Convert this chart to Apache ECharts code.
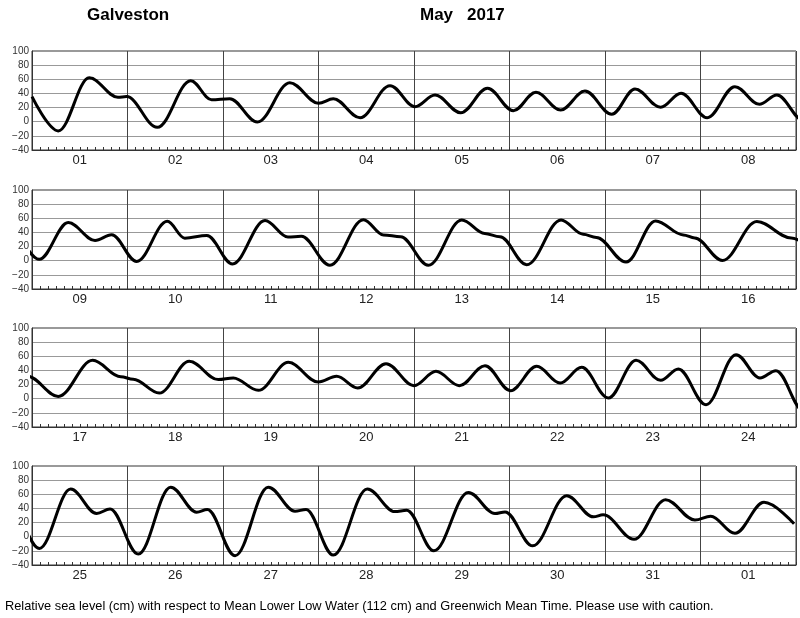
<!DOCTYPE html>
<html>
<head>
<meta charset="utf-8">
<script src="https://cdn.jsdelivr.net/npm/echarts@6/dist/echarts.min.js"></script>
<style>
html,body{margin:0;padding:0;background:#fff;}
#chart{width:800px;height:618px;}
</style>
</head>
<body>
<div id="chart"></div>
<script>
// Turning points of the water level (time in days from 1 May 00:00 GMT, level in cm)
const extremaDays = [
  0, 0.275, 0.60, 0.90, 0.99, 1.312, 1.662, 1.88, 2.07, 2.36, 2.70, 3.0, 3.155, 3.435, 3.749, 4.01, 4.22, 4.489, 4.77, 5.04, 5.277, 5.536, 5.79, 6.07, 6.314, 6.583, 6.796, 7.07, 7.36, 7.616, 7.80,
  8.076, 8.38, 8.66, 8.834, 9.096, 9.417, 9.6, 9.83, 10.10, 10.44, 10.68, 10.82, 11.12, 11.47, 11.68, 11.86, 12.15, 12.50, 12.74, 12.90, 13.18, 13.54, 13.77, 13.91, 14.22, 14.53, 14.82, 14.94, 15.23, 15.59, 15.95,
  16.275, 16.635, 16.93, 17.06, 17.333, 17.647, 17.95, 18.108, 18.37, 18.684, 18.998, 19.19, 19.41, 19.707, 20.0, 20.23, 20.475, 20.743, 21.01, 21.285, 21.53, 21.756, 22.035, 22.325, 22.583, 22.768, 23.058, 23.372, 23.623, 23.79,
  24.077, 24.405, 24.677, 24.817, 25.113, 25.452, 25.724, 25.836, 26.126, 26.474, 26.754, 26.869, 27.155, 27.511, 27.80, 27.923, 28.209, 28.569, 28.848, 28.953, 29.243, 29.599, 29.878, 29.98, 30.304, 30.635, 30.942, 31.107, 31.361, 31.665, 31.98
];
const extremaLevels = [
  35.4, -13, 62, 34.5, 35.5, -8, 58, 31, 32.5, -0.5, 55, 26, 32.5, 5.7, 51, 21.2, 37.8, 12.7, 47.2, 15.6, 41.6, 16.5, 43.4, 10.5, 46.3, 20.4, 40.2, 5.7, 49.5, 24.6, 37.8,
  2, 54, 28.6, 36.6, -1, 55.8, 31.9, 35.7, -4.5, 56.8, 33.5, 34.5, -6.3, 58, 36.5, 34, -6.5, 57.7, 38.5, 34, -5.7, 57.7, 37.5, 33, -1.9, 56.3, 36.5, 32, 0.4, 55.4, 32,
  3.3, 54.3, 31, 27.5, 8, 52.9, 27, 29.3, 11.8, 51.4, 23.6, 31.6, 15.1, 49.6, 18.4, 38.7, 18.4, 46.7, 11.4, 45.8, 22.2, 44.4, 1, 54.3, 26, 42, -8.4, 62.3, 29.3, 39.7,
  -16.7, 67.3, 32.8, 39.3, -24.6, 70.1, 34.7, 38.4, -26.9, 70.1, 36.1, 38.4, -26, 67.3, 35.5, 37.5, -19.9, 62.7, 32.8, 35.1, -12.9, 58, 28.1, 30.9, -3.6, 52.4, 23.5, 29.1, 4.8, 48.7, 18.3
];
const panelDayLabels = [
  ['01','02','03','04','05','06','07','08'],
  ['09','10','11','12','13','14','15','16'],
  ['17','18','19','20','21','22','23','24'],
  ['25','26','27','28','29','30','31','01']
];
const yMin = -40, yMax = 100, yStep = 20;
const titleStation = 'Galveston';
const titleMonth = 'May';
const titleYear = '2017';
const footerText = 'Relative sea level (cm) with respect to Mean Lower Low Water (112 cm) and Greenwich Mean Time. Please use with caution.';

const FONT = '"Liberation Sans", Arial, Helvetica, sans-serif';
const panelTops = [51, 190, 328, 466];
const grids = [], xAxes = [], yAxes = [], series = [];
panelTops.forEach((top, p) => {
  const start = p * 8, end = start + 8;
  grids.push({left: 32, top: top, width: 764, height: 99, show: true,
    borderColor: '#333', borderWidth: 1, backgroundColor: 'transparent'});
  xAxes.push({
    type: 'value', gridIndex: p, min: start, max: end, interval: 1, position: 'bottom',
    axisLine: {show: true, onZero: false, lineStyle: {color: '#333', width: 1}},
    axisTick: {show: true, inside: true, length: 3, lineStyle: {color: '#333'}},
    minorTick: {show: true, splitNumber: 12, length: 3, lineStyle: {color: '#333', width: 1}},
    axisLabel: {show: false}, splitLine: {show: false}
  });
  xAxes.push({
    type: 'category', gridIndex: p, data: panelDayLabels[p], boundaryGap: true, position: 'bottom',
    axisLine: {show: false}, axisTick: {show: false},
    axisLabel: {show: true, interval: 0, margin: 4, fontSize: 13, color: '#222', fontFamily: FONT},
    splitLine: {show: true, interval: 0, lineStyle: {color: '#444', width: 1}}
  });
  yAxes.push({
    type: 'value', gridIndex: p, min: yMin, max: yMax, interval: yStep,
    axisLine: {show: true, lineStyle: {color: '#333'}},
    axisTick: {show: false},
    axisLabel: {margin: 3, fontSize: 10, color: '#333', fontFamily: FONT,
      formatter: v => String(v).replace('-', '\u2212')},
    splitLine: {show: true, lineStyle: {color: '#999', width: 1}}
  });
  const data = [];
  extremaDays.forEach((t, i) => {
    if (t >= start - 0.6 && t <= end + 0.6) data.push([t, extremaLevels[i]]);
  });
  series.push({
    type: 'line', xAxisIndex: p * 2, yAxisIndex: p, data: data,
    showSymbol: false, smooth: 0.36, smoothMonotone: 'x', clip: true, silent: true,
    lineStyle: {color: '#000', width: 3}, z: 5
  });
});

const chart = echarts.init(document.getElementById('chart'), null, {renderer: 'canvas'});
chart.setOption({
  animation: false,
  backgroundColor: '#fff',
  grid: grids, xAxis: xAxes, yAxis: yAxes, series: series,
  graphic: [
    {type: 'text', left: 87, top: 7, style: {text: titleStation, font: 'bold 17px ' + FONT, fill: '#000'}},
    {type: 'text', left: 420, top: 7, style: {text: titleMonth, font: 'bold 17px ' + FONT, fill: '#000'}},
    {type: 'text', left: 467, top: 7, style: {text: titleYear, font: 'bold 17px ' + FONT, fill: '#000'}},
    {type: 'text', left: 5, top: 600, style: {text: footerText, font: '12.8px ' + FONT, fill: '#000'}}
  ]
});
</script>
</body>
</html>
